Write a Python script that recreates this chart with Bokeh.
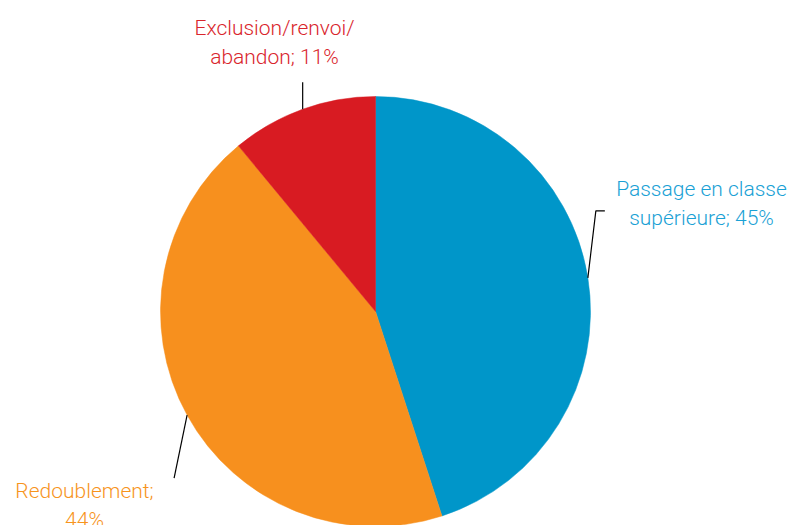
import numpy as np
from bokeh.plotting import figure
from bokeh.embed import file_html
from bokeh.resources import INLINE
from bokeh.core.properties import value

# Data
categories = ["Passage en classe supérieure", "Redoublement", "Exclusion/renvoi/abandon"]
shares = [45, 44, 11]
label_lines = [["Passage en classe", "supérieure; 45%"],
               ["Redoublement;", "44%"],
               ["Exclusion/renvoi/", "abandon; 11%"]]
colors = ["#0096C9", "#F7901E", "#D81B22"]
text_colors = ["#1AA1D5", "#F7941D", "#D9252C"]

W, H = 788, 525
p = figure(width=W, height=H, x_range=(0, W), y_range=(0, H),
           output_backend="svg", toolbar_location=None, min_border=0)
p.axis.visible = False
p.grid.visible = False
p.outline_line_color = None
p.background_fill_color = "white"

def pt(xi, yi):
    # image pixel coords -> data coords
    return xi, H - yi

cx, cy = pt(375, 311)
R = 215

fr = np.array(shares) / sum(shares)
ang = fr * 2 * np.pi
starts = np.pi / 2 - np.concatenate([[0], np.cumsum(ang)[:-1]])
ends = starts - ang
for s, e, c in zip(starts, ends, colors):
    p.wedge(x=cx, y=cy, radius=R, start_angle=e, end_angle=s,
            fill_color=c, line_color=c, line_width=0.5)

mids = (starts + ends) / 2
# leader line end offsets (image pixel deltas) and label anchors
leader_ends = [[(8, -67), (17, -67)], [(-13, 63)], [(0, -27)]]
label_pos = [(701, 188), (84, 490), (274, 27)]
for m, le, lp, lines, tc in zip(mids, leader_ends, label_pos, label_lines, text_colors):
    x0 = cx + R * np.cos(m)
    y0 = cy + R * np.sin(m)
    xs = [x0] + [x0 + dx for dx, dy in le]
    ys = [y0] + [y0 - dy for dx, dy in le]
    p.line(xs, ys, line_color="black", line_width=1.2)
    lx, ly = pt(*lp)
    for i, t in enumerate(lines):
        p.text(x=[lx], y=[ly - 29.5 * i], text=[t], text_align="center",
               text_baseline="middle", text_color=tc,
               text_font=value("'Roboto Light', Roboto"), text_font_size="21px",
               text_font_style="normal")

open("out.html", "w").write(file_html(p, INLINE))
